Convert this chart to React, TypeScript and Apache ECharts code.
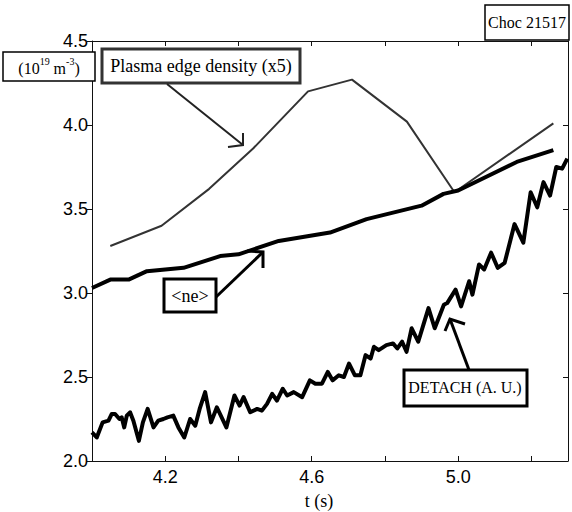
import React, { useEffect, useRef } from "react";
import * as echarts from "echarts";

// Plasma edge density (x5), 10^19 m^-3
const edgeT = [4.05, 4.19, 4.32, 4.44, 4.59, 4.71, 4.86, 4.99, 5.26];
const edgeV = [3.28, 3.40, 3.62, 3.86, 4.20, 4.27, 4.02, 3.60, 4.01];

// <ne>
const neT = [4.00, 4.05, 4.10, 4.15, 4.20, 4.25, 4.35, 4.40, 4.51, 4.65, 4.75, 4.90, 4.96, 5.00, 5.16, 5.26];
const neV = [3.03, 3.08, 3.08, 3.13, 3.14, 3.15, 3.22, 3.23, 3.31, 3.36, 3.44, 3.52, 3.59, 3.61, 3.78, 3.85];

// DETACH (A. U.)
const detachT = [
  4.000, 4.013, 4.029, 4.045, 4.054, 4.063, 4.075, 4.081, 4.088, 4.095,
  4.104, 4.113, 4.128, 4.139, 4.152, 4.168, 4.181, 4.195, 4.206, 4.222,
  4.236, 4.252, 4.268, 4.282, 4.294, 4.309, 4.325, 4.341, 4.367, 4.389,
  4.403, 4.414, 4.432, 4.451, 4.464, 4.478, 4.492, 4.505, 4.521, 4.533,
  4.551, 4.574, 4.595, 4.610, 4.628, 4.644, 4.657, 4.674, 4.688, 4.702,
  4.718, 4.733, 4.747, 4.761, 4.770, 4.783, 4.804, 4.822, 4.834, 4.847,
  4.859, 4.873, 4.891, 4.905, 4.919, 4.936, 4.961, 4.970, 4.993, 5.008,
  5.030, 5.039, 5.057, 5.071, 5.090, 5.108, 5.127, 5.154, 5.178, 5.198,
  5.216, 5.233, 5.251, 5.268, 5.284, 5.298,
];
const detachV = [
  2.17, 2.14, 2.23, 2.24, 2.28, 2.28, 2.25, 2.26, 2.20, 2.27,
  2.29, 2.24, 2.12, 2.23, 2.31, 2.20, 2.24, 2.25, 2.26, 2.27,
  2.20, 2.14, 2.25, 2.21, 2.31, 2.41, 2.23, 2.32, 2.20, 2.39,
  2.33, 2.38, 2.29, 2.31, 2.30, 2.34, 2.40, 2.36, 2.43, 2.39,
  2.41, 2.38, 2.48, 2.46, 2.46, 2.53, 2.48, 2.51, 2.50, 2.58,
  2.51, 2.51, 2.63, 2.61, 2.68, 2.66, 2.69, 2.70, 2.67, 2.71,
  2.65, 2.79, 2.71, 2.81, 2.91, 2.79, 2.93, 2.94, 3.02, 2.92,
  3.07, 2.99, 3.17, 3.14, 3.24, 3.15, 3.18, 3.41, 3.30, 3.60,
  3.51, 3.66, 3.58, 3.75, 3.74, 3.80,
];

const xLabels = ["4.2", "4.6", "5.0"];

const zip = (a: number[], b: number[]) => a.map((v, i) => [v, b[i]]);

const SERIF = "Liberation Serif";
const SANS = "Liberation Sans";

export default function App() {
  const ref = useRef<HTMLDivElement>(null);
  useEffect(() => {
    if (!ref.current) return;
    const chart = echarts.init(ref.current, undefined, { renderer: "svg" });
    const axisLine = { show: true, lineStyle: { color: "#111", width: 1 } };
    const option: any = {
      animation: false,
      backgroundColor: "#fff",
      grid: { left: 92, right: 4, top: 41, bottom: 51 },
      xAxis: [
        {
          type: "value", min: 4.0, max: 5.3, interval: 0.2, position: "bottom",
          axisLine,
          axisTick: { show: true, inside: true, length: 5, lineStyle: { color: "#111" } },
          axisLabel: {
            show: true, margin: 7, fontSize: 18, fontFamily: SANS, color: "#000",
            showMinLabel: true, showMaxLabel: true,
            formatter: (v: number) => (xLabels.includes(v.toFixed(1)) ? v.toFixed(1) : ""),
          },
          splitLine: { show: false },
        },
        {
          type: "value", min: 4.0, max: 5.3, interval: 0.2, position: "top",
          axisLine,
          axisTick: { show: true, inside: true, length: 5, lineStyle: { color: "#111" } },
          axisLabel: { show: false },
          splitLine: { show: false },
        },
      ],
      yAxis: [
        {
          type: "value", min: 2.0, max: 4.5, interval: 0.5, position: "left",
          axisLine,
          axisTick: { show: true, inside: false, length: 5, lineStyle: { color: "#111" } },
          axisLabel: {
            margin: 4, fontSize: 18, fontFamily: SANS, color: "#000",
            formatter: (v: number) => v.toFixed(1),
          },
          splitLine: { show: false },
        },
        {
          type: "value", min: 2.0, max: 4.5, interval: 0.5, position: "right",
          axisLine,
          axisTick: { show: true, inside: true, length: 5, lineStyle: { color: "#111" } },
          axisLabel: { show: false },
          splitLine: { show: false },
        },
      ],
      series: [
        {
          name: "Plasma edge density (x5)", type: "line", xAxisIndex: 0, yAxisIndex: 0,
          data: zip(edgeT, edgeV), symbol: "none",
          lineStyle: { color: "#333", width: 2 },
        },
        {
          name: "<ne>", type: "line", xAxisIndex: 0, yAxisIndex: 0,
          data: zip(neT, neV), symbol: "none",
          lineStyle: { color: "#000", width: 4 },
        },
        {
          name: "DETACH (A. U.)", type: "line", xAxisIndex: 0, yAxisIndex: 0,
          data: zip(detachT, detachV), symbol: "none",
          lineStyle: { color: "#000", width: 4, join: "round" },
        },
      ],
      graphic: [
        // Shot number box
        { type: "rect", shape: { x: 485, y: 5, width: 84, height: 35 }, style: { fill: "#fff", stroke: "#000", lineWidth: 1.5 }, z: 100 },
        { type: "text", x: 527, y: 22, style: { text: "Choc 21517", font: `16px '${SERIF}'`, fill: "#000", align: "center", verticalAlign: "middle" }, z: 101 },
        // Unit box
        { type: "rect", shape: { x: 3, y: 52, width: 92, height: 29 }, style: { fill: "#fff", stroke: "#000", lineWidth: 1.5 }, z: 100 },
        {
          type: "text", x: 49, y: 66, z: 101,
          style: {
            text: "{n|(10}{s|19}{n| m}{s|-3}{n|)}",
            align: "center", verticalAlign: "middle",
            rich: {
              n: { fontSize: 16, fontFamily: SERIF, fill: "#000", lineHeight: 20, verticalAlign: "bottom" },
              s: { fontSize: 10, fontFamily: SERIF, fill: "#000", lineHeight: 11, verticalAlign: "top" },
            },
          },
        },
        // Plasma edge density label
        { type: "rect", shape: { x: 102, y: 49, width: 198, height: 34 }, style: { fill: "#fff", stroke: "#333", lineWidth: 3 }, z: 100 },
        { type: "text", x: 201, y: 66, style: { text: "Plasma edge density (x5)", font: `18px '${SERIF}'`, fill: "#000", align: "center", verticalAlign: "middle" }, z: 101 },
        { type: "line", shape: { x1: 167, y1: 84, x2: 243, y2: 145 }, style: { stroke: "#222", lineWidth: 2 }, z: 100 },
        { type: "polyline", shape: { points: [[228, 147], [243, 145], [243, 133]] }, style: { stroke: "#222", lineWidth: 2, fill: null }, z: 100 },
        // <ne> label
        { type: "rect", shape: { x: 164, y: 279, width: 52, height: 33 }, style: { fill: "#fff", stroke: "#000", lineWidth: 3 }, z: 100 },
        { type: "text", x: 190, y: 296, style: { text: "<ne>", font: `18px '${SERIF}'`, fill: "#000", align: "center", verticalAlign: "middle" }, z: 101 },
        { type: "line", shape: { x1: 216, y1: 297, x2: 263, y2: 252 }, style: { stroke: "#000", lineWidth: 3 }, z: 100 },
        { type: "polyline", shape: { points: [[247, 251], [263, 252], [263, 268]] }, style: { stroke: "#000", lineWidth: 3, fill: null }, z: 100 },
        // DETACH label
        { type: "rect", shape: { x: 404, y: 370, width: 123, height: 36 }, style: { fill: "#fff", stroke: "#000", lineWidth: 3 }, z: 100 },
        { type: "text", x: 465, y: 387, style: { text: "DETACH (A. U.)", font: `16px '${SERIF}'`, fill: "#000", align: "center", verticalAlign: "middle" }, z: 101 },
        { type: "line", shape: { x1: 469, y1: 370, x2: 450, y2: 319 }, style: { stroke: "#000", lineWidth: 3 }, z: 100 },
        { type: "polyline", shape: { points: [[465, 324], [450, 319], [445, 331]] }, style: { stroke: "#000", lineWidth: 3, fill: null }, z: 100 },
        // x axis title
        { type: "text", x: 319, y: 501, style: { text: "t (s)", font: `18px '${SERIF}'`, fill: "#000", align: "center", verticalAlign: "middle" }, z: 101 },
      ],
    };
    chart.setOption(option);
    return () => chart.dispose();
  }, []);
  return (
    <div
      ref={ref}
      style={{ position: "absolute", left: 0, top: 0, width: 572, height: 512, background: "#fff" }}
    />
  );
}
